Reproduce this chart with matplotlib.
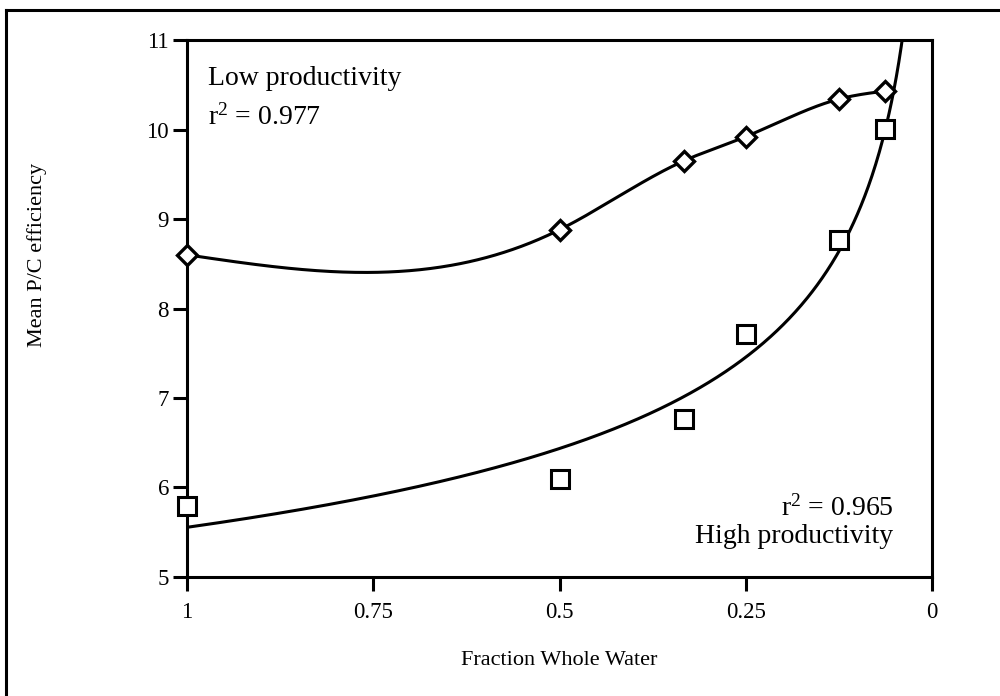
import matplotlib
matplotlib.use("Agg")
import matplotlib.pyplot as plt
import numpy as np
from matplotlib.lines import Line2D

plt.rcParams['font.family'] = ['Liberation Serif', 'DejaVu Serif']
plt.rcParams['mathtext.fontset'] = 'custom'
plt.rcParams['mathtext.rm'] = 'Liberation Serif'
plt.rcParams['mathtext.it'] = 'Liberation Serif:italic'

# fraction of whole water
frac = [1.0, 0.5, 0.333, 0.25, 0.125, 0.0625]
low_prod = [8.60, 8.88, 9.65, 9.92, 10.34, 10.43]
high_prod = [5.79, 6.10, 6.77, 7.71, 8.76, 10.01]
xticks = [1, 0.75, 0.5, 0.25, 0]
xtick_labels = ['1', '0.75', '0.5', '0.25', '0']
yticks = [5, 6, 7, 8, 9, 10, 11]


def natural_spline(xs, ys, xnew):
    # smooth curve through the points (natural cubic spline)
    order = np.argsort(xs)
    x = np.asarray(xs, float)[order]
    y = np.asarray(ys, float)[order]
    n = len(x)
    h = np.diff(x)
    A = np.zeros((n, n))
    r = np.zeros(n)
    A[0, 0] = A[-1, -1] = 1
    for i in range(1, n - 1):
        A[i, i - 1] = h[i - 1]
        A[i, i] = 2 * (h[i - 1] + h[i])
        A[i, i + 1] = h[i]
        r[i] = 6 * ((y[i + 1] - y[i]) / h[i] - (y[i] - y[i - 1]) / h[i - 1])
    M = np.linalg.solve(A, r)
    k = np.clip(np.searchsorted(x, xnew) - 1, 0, n - 2)
    t0 = x[k + 1] - xnew
    t1 = xnew - x[k]
    hk = h[k]
    return (M[k] * t0 ** 3 + M[k + 1] * t1 ** 3) / (6 * hk) + \
        (y[k] / hk - M[k] * hk / 6) * t0 + (y[k + 1] / hk - M[k + 1] * hk / 6) * t1


fig = plt.figure(figsize=(10, 6.96), dpi=100)
ax = fig.add_axes([0.187, 0.171, 0.745, 0.7715])

# low productivity: smooth curve
xl = np.linspace(min(frac), max(frac), 400)
ax.plot(xl, natural_spline(frac, low_prod, xl), color='black', lw=2.2, zorder=2)

# high productivity: power fit y = a * x^b
b, lna = np.polyfit(np.log(frac), np.log(high_prod), 1)
xh = np.linspace(0.02, 1, 600)
ax.plot(xh, np.exp(lna) * xh ** b, color='black', lw=2.2, zorder=2)

ax.plot(frac, low_prod, ls='none', marker='D', ms=10, mfc='white', mec='black',
        mew=2.4, zorder=3, clip_on=False)
ax.plot(frac, high_prod, ls='none', marker='s', ms=12.5, mfc='white', mec='black',
        mew=2.2, zorder=3, clip_on=False)

ax.set_xlim(1, 0)
ax.set_ylim(5, 11)
ax.set_xticks(xticks)
ax.set_xticklabels(xtick_labels)
ax.set_yticks(yticks)
for s in ax.spines.values():
    s.set_linewidth(2.2)
ax.tick_params(axis='both', direction='out', length=10, width=2.2, labelsize=16.5)
ax.tick_params(axis='x', pad=8)
ax.tick_params(axis='y', pad=3)

ax.set_xlabel('Fraction Whole Water', fontsize=16)
ax.set_ylabel('Mean P/C efficiency', fontsize=16)
ax.xaxis.set_label_coords(0.5, -0.138)
ax.yaxis.set_label_coords(-0.188, 0.60)

ax.text(0.028, 0.916, 'Low productivity', transform=ax.transAxes, fontsize=20)
ax.text(0.028, 0.842, r'r$^2$ = 0.977', transform=ax.transAxes, fontsize=20)
ax.text(0.948, 0.115, r'r$^2$ = 0.965', transform=ax.transAxes, fontsize=20, ha='right')
ax.text(0.948, 0.063, 'High productivity', transform=ax.transAxes, fontsize=20, ha='right')

# outer frame (only top and left visible)
fig.add_artist(Line2D([0.006, 1.0], [0.986, 0.986], color='black', lw=2.2, transform=fig.transFigure))
fig.add_artist(Line2D([0.006, 0.006], [0.0, 0.986], color='black', lw=2.2, transform=fig.transFigure))

fig.savefig('out.png', dpi=100)
